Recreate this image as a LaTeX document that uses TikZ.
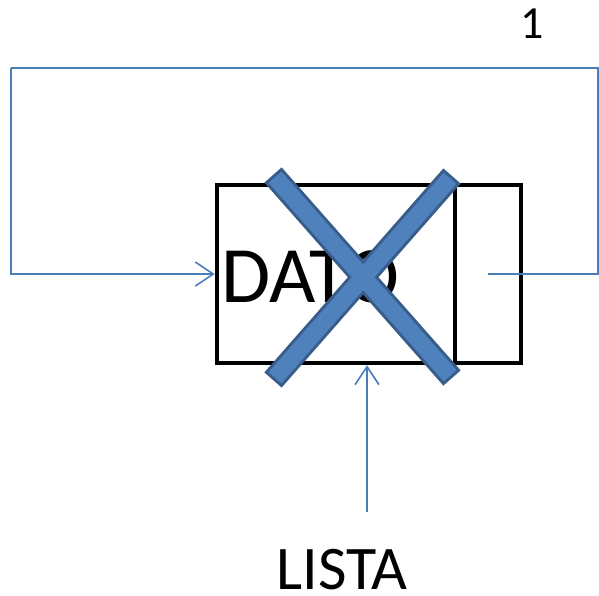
\documentclass[tikz,border=0pt]{standalone}
\usepackage{fontspec}
\setmainfont{Carlito}
\usetikzlibrary{arrows.meta}
\definecolor{lineblue}{HTML}{4A7EBB}
\definecolor{xfill}{HTML}{4F81BD}
\definecolor{xedge}{HTML}{385D8A}
\tikzset{
  box/.style={draw=black, line width=4.5pt, rectangle, inner sep=0pt},
  conn/.style={draw=lineblue, line width=1.6pt, -{Straight Barb[length=18pt,width=24pt,line width=1.6pt]}},
  loopline/.style={draw=lineblue, line width=1.6pt},
  lbl/.style={anchor=base, inner sep=0pt},
}
\begin{document}
\begin{tikzpicture}[x=1pt,y=-1pt]
\useasboundingbox (0,0) rectangle (599,595);
% boxes
\node[box, minimum width=238pt, minimum height=178pt] (dato) at (336,274) {};
\node[box, minimum width=66pt, minimum height=178pt] (ptr) at (488,274) {};
\node[anchor=base west, inner sep=0pt, font=\fontsize{80}{96}\selectfont] (datotext) at (221,302) {DATO};
% loop connector
\coordinate (c1) at (598,68);
\coordinate (c2) at (11,68);
\draw[loopline] (ptr.center) -| (c1) -- (c2);
\draw[conn] (c2) |- (dato.west);
% top label
\node[lbl, font=\fontsize{46}{55}\selectfont] (one) at (532,38) {1};
% LISTA
\node[lbl, font=\fontsize{62}{74}\selectfont] (lista) at (342,589) {LISTA};
\coordinate (ls) at (367,512);
\draw[conn] (ls) -- (ls |- dato.south);
% big X
\coordinate (x1) at (273,175);
\coordinate (x2) at (452,378);
\coordinate (x3) at (452,176);
\coordinate (x4) at (273,380);
\draw[xedge, line width=23pt, line cap=butt] (x1) -- (x2);
\draw[xedge, line width=23pt, line cap=butt] (x3) -- (x4);
\draw[xfill, line width=17pt, line cap=butt, shorten <=3pt, shorten >=3pt] (x1) -- (x2);
\draw[xfill, line width=17pt, line cap=butt, shorten <=3pt, shorten >=3pt] (x3) -- (x4);
\end{tikzpicture}
\end{document}
